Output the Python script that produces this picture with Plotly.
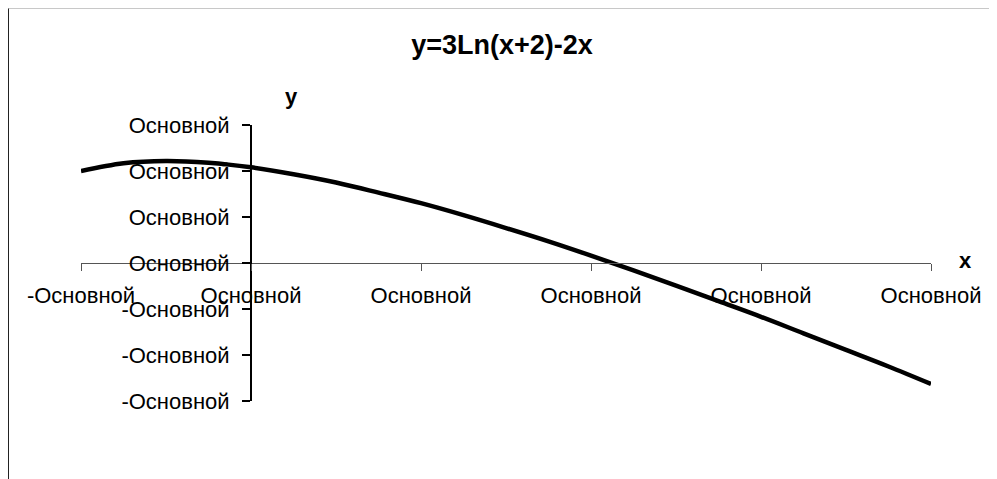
import plotly.graph_objects as go

# Data
x_vals = [-1.0, -0.75, -0.5, -0.25, 0.0, 0.25, 0.5, 0.75, 1.0, 1.25, 1.5,
          1.75, 2.0, 2.25, 2.5, 2.75, 3.0, 3.25, 3.5, 3.75, 4.0]
y_vals = [2.00, 2.17, 2.22, 2.18, 2.08, 1.93, 1.75, 1.53, 1.30, 1.04, 0.76,
          0.47, 0.16, -0.16, -0.49, -0.83, -1.17, -1.53, -1.89, -2.25, -2.63]

x_tick_vals = [-1, 0, 1, 2, 3, 4]
x_tick_text = ["-Основной", "Основной", "Основной", "Основной", "Основной", "Основной"]
y_tick_vals = [-3, -2, -1, 0, 1, 2, 3]
y_tick_text = ["-Основной", "-Основной", "-Основной", "Основной", "Основной", "Основной", "Основной"]

title_text = "y=3Ln(x+2)-2x"

FONT = "Liberation Sans, Arial, sans-serif"

W, H = 989, 471
L, R, T, B = 73, 66, 117, 78
PW = W - L - R
PH = H - T - B


def px(xp):
    return (xp - L) / PW


def py(yp):
    return (H - B - yp) / PH


fig = go.Figure()
fig.add_trace(go.Scatter(
    x=x_vals, y=y_vals, mode="lines",
    line=dict(color="black", width=4.5, shape="spline"),
    showlegend=False, hoverinfo="skip",
))

fig.update_layout(
    width=W, height=H,
    margin=dict(l=L, r=R, t=T, b=B, autoexpand=False),
    paper_bgcolor="white", plot_bgcolor="white",
    font=dict(family=FONT, size=22, color="black"),
    title=dict(text="<b>" + title_text + "</b>", x=494 / W, xref="container", xanchor="center",
               y=1 - 37 / H, yref="container", yanchor="middle",
               font=dict(family=FONT, size=27, color="black")),
    xaxis=dict(
        range=[-1, 4], tickvals=x_tick_vals, ticktext=x_tick_text,
        showline=True, linecolor="#555555", linewidth=1,
        ticks="outside", ticklen=7, tickcolor="#555555", tickwidth=1,
        anchor="free", position=0.5, showgrid=False, zeroline=False,
        ticklabelstandoff=6, tickfont=dict(size=22),
    ),
    yaxis=dict(
        range=[-3, 3], tickvals=y_tick_vals, ticktext=y_tick_text,
        showline=True, linecolor="black", linewidth=2,
        ticks="outside", ticklen=8, tickcolor="black", tickwidth=2,
        anchor="free", position=0.2, showgrid=False, zeroline=False,
        ticklabelstandoff=8, tickfont=dict(size=22),
    ),
    annotations=[
        dict(text="<b>y</b>", x=px(283), xref="paper", y=py(88), yref="paper",
             xanchor="center", yanchor="middle",
             showarrow=False, font=dict(family=FONT, size=22)),
        dict(text="<b>x</b>", x=px(957), xref="paper", y=py(252), yref="paper",
             xanchor="center", yanchor="middle",
             showarrow=False, font=dict(family=FONT, size=22)),
    ],
    shapes=[
        dict(type="line", xref="paper", yref="paper",
             x0=px(0.5), x1=px(W), y0=py(0.5), y1=py(0.5),
             line=dict(color="#c8c8c8", width=1)),
        dict(type="line", xref="paper", yref="paper",
             x0=px(0.5), x1=px(0.5), y0=py(0.5), y1=py(H),
             line=dict(color="#222222", width=1)),
    ],
)

fig.write_html("out.html")
